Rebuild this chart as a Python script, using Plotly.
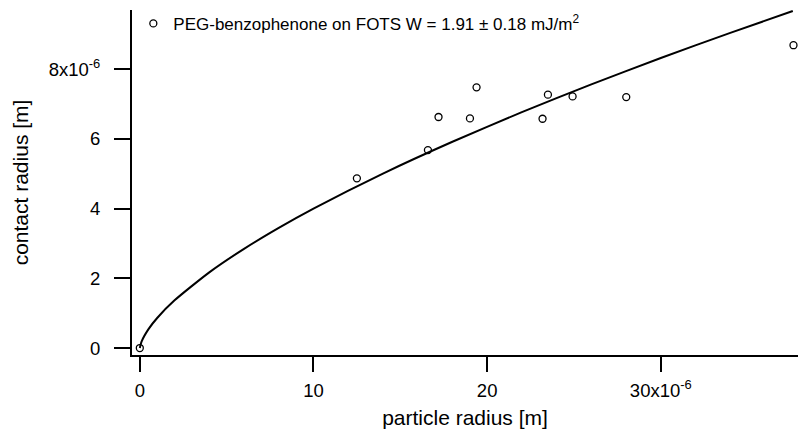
import plotly.graph_objects as go

# Measured data (particle radius [m], contact radius [m]) in units of 1e-6
particle_radius_um = [0.0, 12.50, 16.59, 17.20, 19.01, 19.39, 23.19, 23.50, 24.92, 28.01, 37.64]
contact_radius_um = [0.0, 4.87, 5.68, 6.63, 6.59, 7.48, 6.58, 7.27, 7.22, 7.20, 8.69]

# Fit curve (JKR fit)
fit_radius_um = [0.0, 0.1, 0.5, 1, 2, 4, 6, 8, 10, 14, 18, 22, 26, 30, 34, 37.6]
fit_contact_um = [0.0, 0.186, 0.543, 0.862, 1.368, 2.172, 2.846, 3.448, 4.001,
                  5.007, 5.920, 6.768, 7.565, 8.322, 9.044, 9.67]

x_tickvals_um = [0, 10, 20, 30]
x_ticktext = ["0", "10", "20", "30x10<sup>-6</sup>"]
y_tickvals_um = [0, 2, 4, 6, 8]
y_ticktext = ["0", "2", "4", "6", "8x10<sup>-6</sup>"]

legend_name = "PEG-benzophenone on FOTS W = 1.91 ± 0.18 mJ/m<sup>2</sup>"

scale = 1e-6
px = [v * scale for v in particle_radius_um]
py = [v * scale for v in contact_radius_um]
fx = [v * scale for v in fit_radius_um]
fy = [v * scale for v in fit_contact_um]

FONT = "Liberation Sans, Arial, sans-serif"

fig = go.Figure()
fig.add_trace(go.Scatter(
    x=px, y=py, mode="markers", name=legend_name, cliponaxis=False,
    marker=dict(symbol="circle-open", size=7, color="black", line=dict(width=1.3, color="black")),
))
fig.add_trace(go.Scatter(
    x=fx, y=fy, mode="lines", showlegend=False,
    line=dict(color="black", width=2, shape="spline", smoothing=0.6),
))

fig.update_layout(
    width=798, height=433,
    margin=dict(l=132, r=0, t=10, b=78),
    paper_bgcolor="white", plot_bgcolor="white",
    font=dict(family=FONT, size=18, color="black"),
    showlegend=True,
    legend=dict(x=0.002, y=1.012, xanchor="left", yanchor="top",
                bgcolor="rgba(0,0,0,0)", borderwidth=0,
                font=dict(family=FONT, size=17, color="black")),
    xaxis=dict(
        range=[-0.45e-6, 37.9e-6], automargin=False,
        tickvals=[v * scale for v in x_tickvals_um], ticktext=x_ticktext,
        ticks="outside", ticklen=15, tickwidth=2, tickcolor="black",
        ticklabelstandoff=3,
        showline=True, linecolor="black", linewidth=2,
        showgrid=False, zeroline=False,
        title=dict(text="particle radius [m]", font=dict(size=21), standoff=10),
        tickfont=dict(size=18.5),
    ),
    yaxis=dict(
        range=[-0.2e-6, 9.70e-6], automargin=False,
        tickvals=[v * scale for v in y_tickvals_um], ticktext=y_ticktext,
        ticks="outside", ticklen=16, tickwidth=2, tickcolor="black",
        ticklabelstandoff=10,
        showline=True, linecolor="black", linewidth=2,
        showgrid=False, zeroline=False,
        title=dict(text="contact radius [m]", font=dict(size=21), standoff=14),
        tickfont=dict(size=18.5),
    ),
)

fig.write_html(
    "out.html",
    config={"displayModeBar": False},
    post_script="document.body.style.margin='0';document.body.style.padding='0';",
)
